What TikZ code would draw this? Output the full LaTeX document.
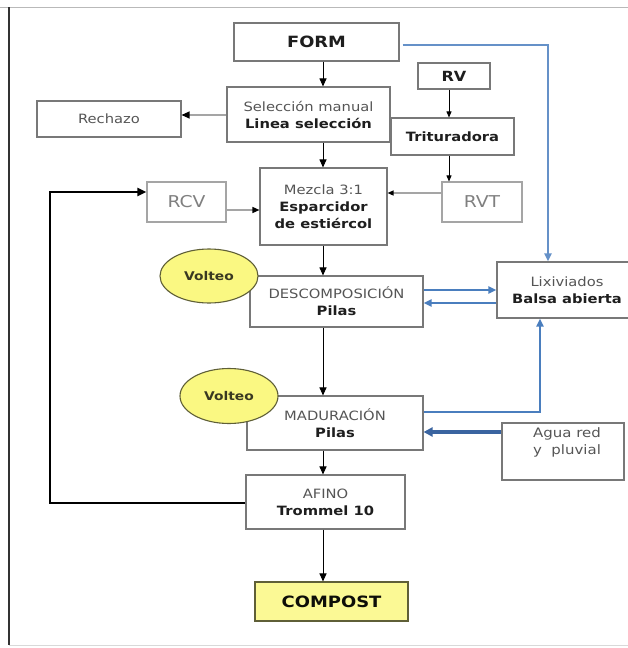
\documentclass[tikz,border=0pt]{standalone}
\usepackage{fontspec}
\setmainfont{DejaVu Sans}[FakeStretch=1.15]
\usetikzlibrary{arrows.meta,shapes.geometric}

\definecolor{txtgray}{RGB}{85,85,85}
\definecolor{txtdark}{RGB}{30,30,30}
\definecolor{boxgray}{RGB}{120,120,120}
\definecolor{lightbox}{RGB}{165,165,165}
\definecolor{flowblue}{RGB}{74,126,190}
\definecolor{deepblue}{RGB}{58,100,160}
\definecolor{paleyellow}{RGB}{250,248,130}
\definecolor{olive}{RGB}{95,95,55}

\newcommand{\nrm}[1]{{\color{txtgray}#1}}
\newcommand{\bld}[1]{{\bfseries\color{txtdark}#1}}

\tikzset{
  box/.style={draw=boxgray, line width=1.1pt, fill=white, rectangle,
    inner sep=0pt, align=center, font=\fontsize{12.8}{17}\selectfont},
  lightbox/.style={box, draw=lightbox},
  volteo/.style={ellipse, draw=olive, line width=1.1pt, fill=paleyellow,
    inner sep=0pt, font=\bfseries\fontsize{12}{14}\selectfont, text=olive!60!black},
  tip/.style={-{Triangle[length=8pt,width=7pt]}},
  smalltip/.style={-{Triangle[length=6pt,width=5pt]}},
  flow/.style={tip, black, line width=1pt},
  grayflow/.style={line width=1.2pt, draw=lightbox},
  blueflow/.style={draw=flowblue, line width=2pt},
  bluetip/.style={-{Triangle[length=8pt,width=7pt]}},
}

\begin{document}
\begin{tikzpicture}[x=1pt, y=-1pt]
  \clip (0,0) rectangle (628,648);
  \fill[white] (0,0) rectangle (628,648);

  % page frame
  \draw[gray!55, line width=1pt] (0,7) -- (628,7);
  \draw[black!80, line width=1.1pt] (9,7) -- (9,645);
  \draw[gray!30, line width=1pt] (9,645) -- (628,645);

  % boxes
  \node[box, minimum width=165pt, minimum height=38pt] (form) at (316.5,42)
    {\fontsize{15.5}{18}\selectfont\bld{FORM}};
  \node[box, minimum width=163pt, minimum height=55pt] (sel) at (308.5,114.5)
    {\nrm{Selección manual}\\\bld{Linea selección}};
  \node[box, minimum width=144pt, minimum height=36pt] (rech) at (109,119)
    {\nrm{Rechazo}};
  \node[box, minimum width=72pt, minimum height=26pt] (rv) at (454,76)
    {\fontsize{14}{16}\selectfont\bld{RV}};
  \node[box, minimum width=123pt, minimum height=37pt] (trit) at (452.5,136.5)
    {\bld{Trituradora}};
  \node[box, minimum width=127pt, minimum height=77pt] (mez) at (323.5,206.5)
    {\nrm{Mezcla 3:1}\\\bld{Esparcidor}\\\bld{de estiércol}};
  \node[lightbox, minimum width=79pt, minimum height=40pt] (rcv) at (186.5,202)
    {\fontsize{16.3}{18}\selectfont\color{gray}RCV};
  \node[lightbox, minimum width=80pt, minimum height=40pt] (rvt) at (482,202)
    {\fontsize{16.3}{18}\selectfont\color{gray}RVT};
  \node[box, minimum width=173pt, minimum height=51pt] (desc) at (336.5,301.5)
    {\nrm{DESCOMPOSICIÓN}\\\bld{Pilas}};
  \node[box, minimum width=140pt, minimum height=56pt] (lix) at (567,290)
    {\nrm{Lixiviados}\\\bld{Balsa abierta}};
  \node[box, minimum width=122pt, minimum height=57pt] (agua) at (563,451.5) {};
  \node[box, minimum width=176pt, minimum height=54pt] (mad) at (335,423)
    {\nrm{MADURACIÓN}\\\bld{Pilas}};
  \node[anchor=north, align=center, inner sep=0pt,
    font=\fontsize{13}{17}\selectfont] (aguatxt) at ([xshift=4pt,yshift=-5pt]agua.north)
    {\nrm{Agua red}\\\nrm{y\ \ pluvial}};
  \node[box, minimum width=159pt, minimum height=54pt] (afino) at (325.5,502)
    {\nrm{AFINO}\\\bld{Trommel 10}};
  \node[box, draw=olive, fill=paleyellow!85!white, minimum width=153pt, minimum height=39pt]
    (comp) at (331.5,601.5)
    {\fontsize{15.6}{18}\selectfont\bfseries\color{black!85!olive}COMPOST};

  % turning ellipses
  \node[volteo, minimum width=98pt, minimum height=54pt] (v1) at (209,276) {Volteo};
  \node[volteo, minimum width=98pt, minimum height=55pt] (v2) at (229,396) {Volteo};

  % main spine
  \coordinate (spine) at (323,0);
  \draw[flow] (form.south -| spine) -- (sel.north -| spine);
  \draw[flow] (sel.south -| spine) -- (mez.north -| spine);
  \draw[flow] (mez.south -| spine) -- (desc.north -| spine);
  \draw[flow] (desc.south -| spine) -- (mad.north -| spine);
  \draw[flow] (mad.south -| spine) -- (afino.north -| spine);
  \draw[flow] (afino.south -| spine) -- (comp.north -| spine);

  % side inputs
  \draw[grayflow, -{Triangle[length=8pt,width=7pt,color=black]}]
    (sel.west |- 0,115) -- (rech.east |- 0,115);
  \coordinate (rvx) at (449,0);
  \draw[smalltip, line width=0.8pt] (rv.south -| rvx) -- (trit.north -| rvx);
  \draw[smalltip, line width=0.8pt] (trit.south -| rvx) -- (rvt.north -| rvx);
  \draw[grayflow, -{Triangle[length=6pt,width=5pt,color=black]}]
    (rvt.west |- 0,193) -- (mez.east |- 0,193);
  \draw[grayflow, line width=1.4pt, -{Triangle[length=7pt,width=6pt,color=black]}]
    (rcv.east |- 0,210) -- (mez.west |- 0,210);

  % recirculation of screen overs
  \coordinate (fb1) at (50,503);
  \coordinate (fb2) at (50,192);
  \draw[line width=2.8pt, -{Triangle[length=9pt,width=8pt]}]
    (afino.west |- fb1) -- (fb1) -- (fb2) -- (rcv.west |- fb2);

  % leachate circuit
  \coordinate (bl1) at (548,45);
  \draw[blueflow, bluetip, draw=flowblue!85!white]
    ([xshift=3pt]form.east |- bl1) -- (bl1) -- (bl1 |- lix.north);
  \draw[blueflow, bluetip] (desc.east |- 0,290) -- (lix.west |- 0,290);
  \draw[blueflow, bluetip] (lix.west |- 0,303) -- (desc.east |- 0,303);
  \coordinate (bl2) at (540,412);
  \draw[blueflow, bluetip, line width=2.4pt] (mad.east |- bl2) -- (bl2) -- (bl2 |- lix.south);
  \draw[draw=deepblue, line width=3.6pt, -{Triangle[length=9pt,width=9pt]}]
    (agua.west |- 0,432) -- (mad.east |- 0,432);
\end{tikzpicture}
\end{document}
